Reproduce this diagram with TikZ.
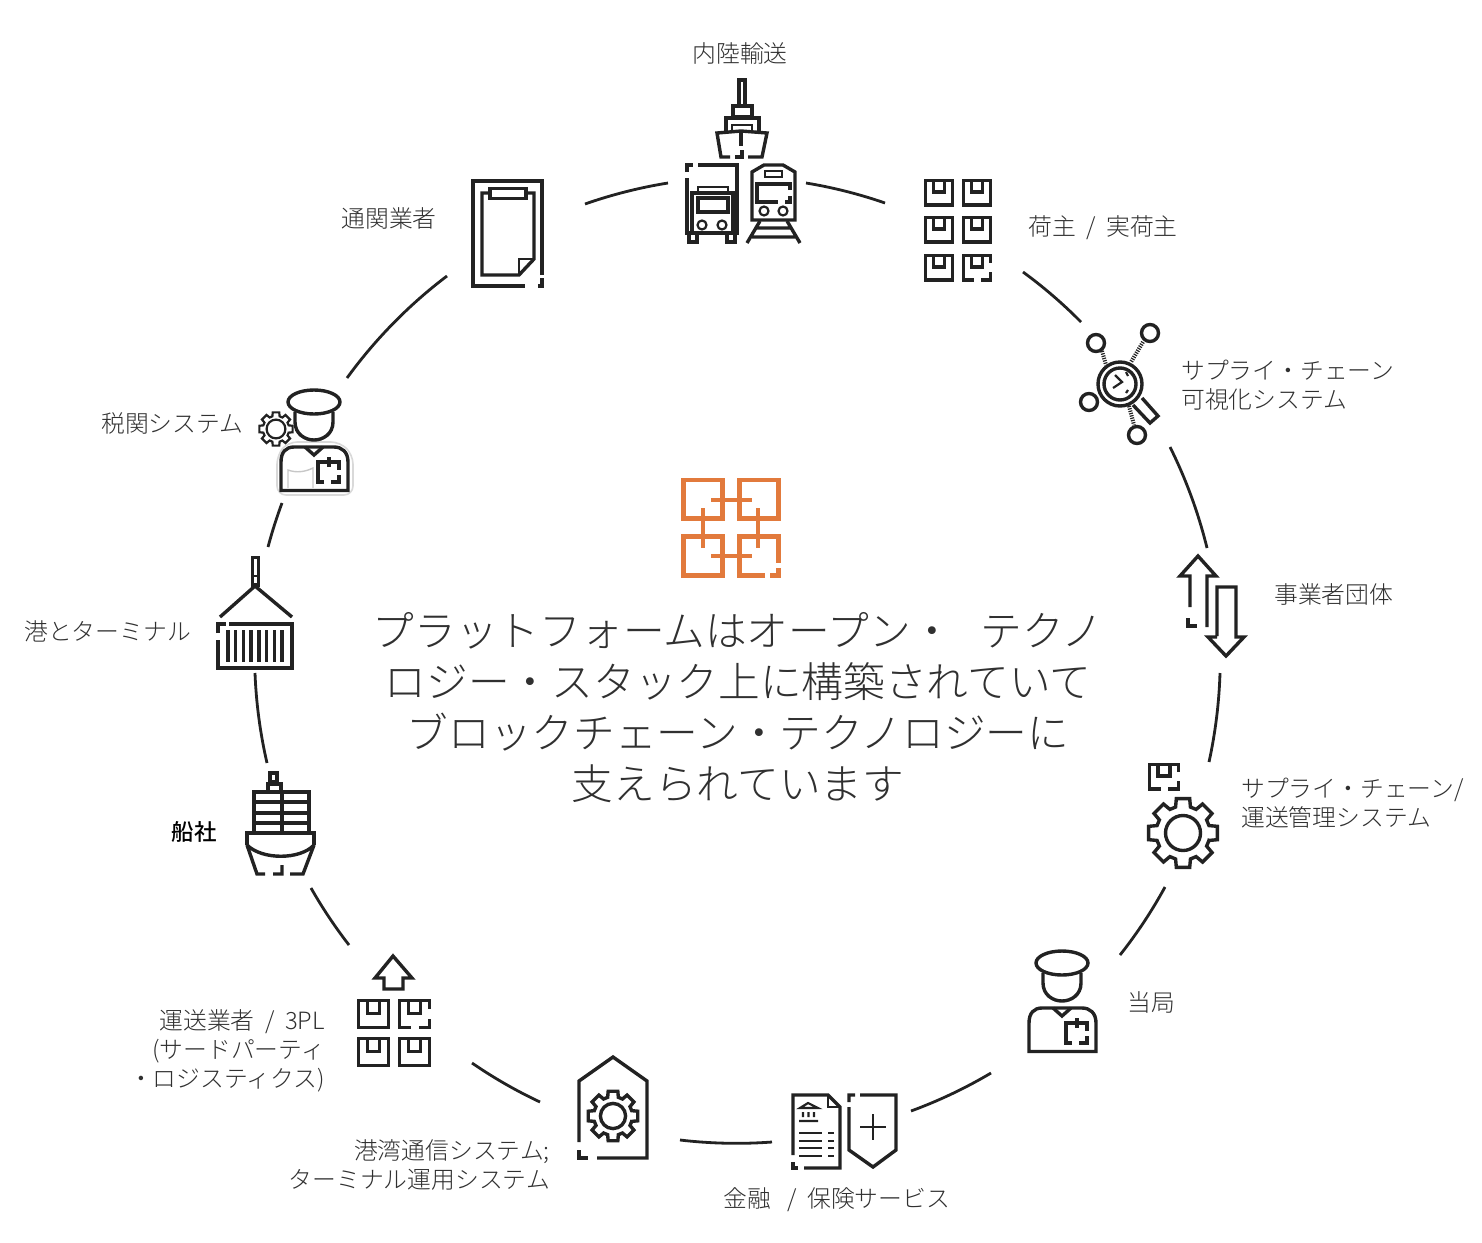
\documentclass[tikz,border=0pt]{standalone}
\usepackage{fontspec}
\setmainfont{Noto Sans CJK JP}[UprightFont=* Light,BoldFont=* Medium]
\usetikzlibrary{positioning}
\definecolor{iconink}{HTML}{222222}
\definecolor{logoorange}{HTML}{E27A3C}
\definecolor{labelink}{HTML}{303030}
\tikzset{
  iconline/.style={draw=iconink,line width=3.4pt,line join=miter},
  thinline/.style={draw=iconink,line width=2.2pt},
  logoline/.style={draw=logoorange,line width=4.2pt},
  ringarc/.style={draw=iconink,line width=2.8pt,looseness=.85},
  ringtext/.style={text=labelink,inner sep=0pt,font=\fontsize{23.8}{29}\selectfont},
  crate/.pic={
    \draw[iconline] (1.5,1.5) rectangle (28.5,26);
    \draw[iconline] (9.5,1.5) -- (9.5,13) -- (20.5,13) -- (20.5,1.5);
  },
  brokencrate/.pic={
    \draw[iconline] (28.5,9) -- (28.5,1.5) -- (1.5,1.5) -- (1.5,26) -- (12,26) (19,26) -- (28.5,26) -- (28.5,18);
    \draw[iconline] (9.5,1.5) -- (9.5,13) -- (20.5,13) -- (20.5,1.5);
  },
  gearwheel/.pic={
    \draw[iconline] (12:27) foreach \a in {45,90,...,360} { -- (\a-29:27) -- (\a-16:27) -- (\a-11:35) -- (\a+11:35) -- (\a+16:27)} -- cycle;
    \draw[iconline] (0,0) circle (17.5);
  },
  officer/.pic={
    \draw[iconline] (0,0) ellipse (26 and 12);
    \draw[iconline] (-19,10) -- (-19,20) .. controls (-19,32) and (-9,38) .. (0,38) .. controls (9,38) and (19,32) .. (19,20) -- (19,10);
    \draw[iconline] (-33,88.5) -- (-33,60) .. controls (-33,50) and (-28,45) .. (-20,45) -- (20,45) .. controls (28,45) and (34,50) .. (34,60) -- (34,88.5) -- cycle;
    \draw[iconline] (-9,45) -- (0,53) -- (9,45);
    \draw[iconline] (10,80) -- (4,80) -- (4,60) -- (25,60) -- (25,68) (25,73) -- (25,80) -- (17,80) (15,55) -- (15,65);
  }
}
\begin{document}
\begin{tikzpicture}[x=1pt,y=-1pt]
  \useasboundingbox (0,0) rectangle (1482,1242);

  \coordinate (arcAa) at (585,204);   \coordinate (arcAb) at (668,183);
  \coordinate (arcBa) at (806,183);   \coordinate (arcBb) at (885,203);
  \coordinate (arcCa) at (1023,272);  \coordinate (arcCb) at (1081,322);
  \coordinate (arcDa) at (1170,447);  \coordinate (arcDb) at (1207,548);
  \coordinate (arcEa) at (1220,673);  \coordinate (arcEb) at (1209,762);
  \coordinate (arcFa) at (1165,887);  \coordinate (arcFb) at (1120,955);
  \coordinate (arcGa) at (991,1073);  \coordinate (arcGb) at (911,1111);
  \coordinate (arcHa) at (772,1142);  \coordinate (arcHb) at (680,1140);
  \coordinate (arcIa) at (540,1102);  \coordinate (arcIb) at (472,1063);
  \coordinate (arcJa) at (349,945);   \coordinate (arcJb) at (311,888);
  \coordinate (arcKa) at (267,763);   \coordinate (arcKb) at (255,673);
  \coordinate (arcLa) at (268,547);   \coordinate (arcLb) at (282,503);
  \coordinate (arcMa) at (347,378);   \coordinate (arcMb) at (447,276);

  \path[ringarc]
  (arcAa) edge[bend left=5.1] (arcAb)
  (arcBa) edge[bend left=4.9] (arcBb)
  (arcCa) edge[bend left=4.6] (arcCb)
  (arcDa) edge[bend left=6.4] (arcDb)
  (arcEa) edge[bend left=5.3] (arcEb)
  (arcFa) edge[bend left=4.9] (arcFb)
  (arcGa) edge[bend left=5.3] (arcGb)
  (arcHa) edge[bend left=5.5] (arcHb)
  (arcIa) edge[bend left=4.7] (arcIb)
  (arcJa) edge[bend left=4.1] (arcJb)
  (arcKa) edge[bend left=5.4] (arcKb)
  (arcLa) edge[bend left=2.7] (arcLb)
  (arcMa) edge[bend left=8.5] (arcMb);

  \draw[iconline] (739,106) rectangle (745,80);
  \draw[iconline] (733,117) rectangle (752,106);
  \draw[iconline] (726,131) -- (726,118) -- (759,118) -- (759,131);
  \draw[thinline] (732,130) -- (732,125) -- (752,125) -- (752,130);
  \draw[iconline] (730,157) -- (721,157) -- (717,133) -- (741,131) -- (767,133) -- (762,157) -- (748,157);
  \draw[iconline] (735,157) -- (742,157) -- (742,150) (741,131) -- (741,146);
  \draw[iconline] (687,172) -- (687,165) -- (693,165) (698,165) -- (737,165) -- (737,233) -- (687,233) -- (687,178);
  \draw[iconline] (692,233) -- (692,193) -- (733,193) -- (733,233);
  \draw[thinline] (698,192) -- (698,187) -- (728,187) -- (728,192);
  \draw[iconline] (698,198) rectangle (728,212);
  \draw[thinline] (702,225) circle (4.5) (722,225) circle (4.5);
  \draw[iconline] (689,233) -- (689,242) -- (697,242) -- (697,233) (727,233) -- (727,242) -- (735,242) -- (735,233);
  \draw[iconline] (752,220) -- (752,172) -- (764,165) -- (783,165) -- (795,172) -- (795,220) -- cycle;
  \draw[thinline] (765,171) rectangle (782,177);
  \draw[iconline] (790,190) -- (790,184) -- (757,184) -- (757,202) -- (778,202) (785,202) -- (790,202) -- (790,196);
  \draw[thinline] (764,211) circle (4.5) (783,211) circle (4.5);
  \draw[iconline] (747,243) -- (760,221) (800,243) -- (787,221) (757,228) -- (790,228) (752,237) -- (795,237);

  \pic at (924,179) {crate};
  \pic at (962,179) {crate};
  \pic at (924,216) {crate};
  \pic at (962,216) {crate};
  \pic at (924,254) {crate};
  \pic at (962,254) {brokencrate};

  \draw[iconline] (542,275) -- (542,181) -- (473,181) -- (473,286) -- (525,286) (538,286) -- (542,286) -- (542,278);
  \draw[iconline] (489,193) -- (482,193) -- (482,275) -- (519,275) -- (534,259) -- (534,193) -- (527,193);
  \draw[iconline] (490,188.5) rectangle (526,198.5);
  \draw[thinline] (519,275) -- (519,259) -- (534,259);

  \draw[iconline] (1120,384) circle (22) (1120,384) circle (16);
  \draw[iconline] (1096,343) circle (8.5) (1150,333) circle (8.5) (1089,402) circle (8.5) (1137,435) circle (8.5);
  \draw[draw=iconink,line width=4pt,dash pattern=on 1.2pt off 1.2pt] (1102,351) -- (1106,365) (1143,342) -- (1131,362) (1129,406) -- (1134,425);
  \draw[iconline] (1133,405) -- (1150,423) -- (1158,416) -- (1142,398);
  \draw[thinline] (1115,375) -- (1122,382) -- (1113,388) (1126,372) -- (1128,376) (1128,390) -- (1126,393);

  \draw[iconline] (1190,607) -- (1190,576) -- (1180,576) -- (1198,556) -- (1216,576) -- (1207,576) -- (1207,627);
  \draw[iconline] (1188,618) -- (1188,626) -- (1197,626);
  \draw[iconline] (1217,636) -- (1217,587) -- (1236,587) -- (1236,637) -- (1244,637) -- (1226,656) -- (1208,637) -- (1217,637);

  \pic[xscale=1.07,yscale=1] at (1148,763) {brokencrate};
  \pic at (1183,833) {gearwheel};

  \pic at (1062,963) {officer};

  \draw[iconline] (793,1155) -- (793,1095) -- (828,1095) -- (840,1107) -- (840,1168) -- (804,1168);
  \draw[iconline] (798,1168) -- (793,1168) -- (793,1162);
  \draw[thinline] (828,1095) -- (828,1107) -- (840,1107);
  \draw[thinline] (800,1108) -- (808,1103) -- (818,1108) -- cycle (803,1112) -- (803,1117) (808.5,1112) -- (808.5,1117) (814,1112) -- (814,1117) (799,1121) -- (818,1121);
  \draw[thinline] (799,1133) -- (822,1133) (828,1133) -- (834,1133) (799,1141) -- (822,1141) (828,1141) -- (834,1141) (799,1148) -- (822,1148) (828,1148) -- (834,1148) (799,1156) -- (822,1156) (828,1156) -- (834,1156);
  \draw[iconline] (849,1102) -- (849,1095) -- (855,1095) (860,1095) -- (896,1095) -- (896,1150) -- (873,1167) -- (849,1150) -- (849,1107);
  \draw[thinline] (860,1127) -- (886,1127) (873,1114) -- (873,1140);

  \draw[iconline] (597,1158) -- (647,1158) -- (647,1081) -- (613,1057) -- (579,1081) -- (579,1142);
  \draw[iconline] (579,1150) -- (579,1158) -- (588,1158);
  \pic[scale=.72] at (613,1116) {gearwheel};

  \draw[iconline] (375,978) -- (393,956) -- (412,978) -- (403,978) -- (403,989) -- (384,989) -- (384,978) -- cycle;
  \pic[scale=1.1] at (357,999) {crate};
  \pic[scale=1.1] at (398,999) {brokencrate};
  \pic[scale=1.1] at (357,1037) {crate};
  \pic[scale=1.1] at (398,1037) {crate};

  \draw[iconline] (270,782) rectangle (277,773);
  \draw[iconline] (268,791) -- (268,784) -- (281,784) -- (281,791);
  \draw[iconline] (254,833) -- (254,792) -- (309,792) -- (309,833);
  \draw[iconline] (254,802) -- (309,802) (254,813) -- (309,813) (254,823) -- (309,823) (282,792) -- (282,833);
  \draw[iconline] (247,845) -- (247,833) -- (314,833) -- (314,845);
  \draw[iconline] (247,845) .. controls (262,860) and (300,860) .. (314,845);
  \draw[iconline] (247,845) -- (257,874) -- (265,874) (273,874) -- (282,874) -- (282,865) (290,874) -- (303,874) -- (314,845);

  \draw[iconline] (252.5,585) rectangle (258.5,557.5);
  \draw[thinline] (252.5,576) -- (258.5,576);
  \draw[iconline] (220,617) -- (255,586) -- (292,617);
  \draw[iconline] (218,633) -- (218,624) -- (226,624) (229,624) -- (292,624) -- (292,668) -- (218,668) -- (218,640);
  \foreach \barx in {228,235.7,...,283} {
    \draw[iconline] (\barx,630) -- (\barx,662);
  }

  \draw[draw=black!15,line width=1.6pt,rounded corners=9pt] (277,495) -- (277,455) -- (288,442) -- (340,442) -- (353,455) -- (353,495) -- cycle;
  \pic at (314,402) {officer};
  \draw[draw=black!22,line width=1.4pt] (288,488) -- (288,470) .. controls (296,473) and (305,472) .. (313,468) -- (313,488);
  \begin{scope}[shift={(276,429)},scale=.47]
    \draw[thinline] (12:28) foreach \a in {45,90,...,360} { -- (\a-29:28) -- (\a-16:28) -- (\a-11:36) -- (\a+11:36) -- (\a+16:28)} -- cycle;
    \draw[thinline] (0,0) circle (20);
  \end{scope}

  \draw[logoline] (683.5,480) rectangle (722.5,518.5);
  \draw[logoline] (739.5,480) rectangle (778.5,518.5);
  \draw[logoline] (683.5,536.5) rectangle (722.5,575.5);
  \draw[logoline] (765,575.5) -- (739.5,575.5) -- (739.5,536.5) -- (778.5,536.5) -- (778.5,563) (770,575.5) -- (778.5,575.5) -- (778.5,568);
  \draw[logoline] (711,500) -- (752,500) (711,556) -- (752,556) (703,508) -- (703,548) (758,508) -- (758,548);

  \node[ringtext] (inland) at (740,53) {内陸輸送};
  \node[ringtext] (broker) at (389,218) {通関業者};
  \node[ringtext,anchor=west] (shipper) at (1028,228) {荷主\ \ /\ \ 実荷主};
  \node[ringtext,anchor=west,align=left] (visibility) at (1181,385) {サプライ・チェーン\\可視化システム};
  \node[ringtext,anchor=west] (bodies) at (1274,594) {事業者団体};
  \node[ringtext,anchor=west,align=left] (transport) at (1241,803) {サプライ・チェーン/\\運送管理システム};
  \node[ringtext,anchor=west] (authority) at (1127,1002) {当局};
  \node[ringtext] (finance) at (837,1200) {金融\ \ \ /\ \ 保険サービス};
  \node[ringtext,anchor=east,align=right] (portcomm) at (550,1164.5) {港湾通信システム;\\ターミナル運用システム};
  \node[ringtext,anchor=east,align=right] (carrier) at (325,1051) {運送業者\ \ /\ \ 3PL\\(サードパーティ\\・ロジスティクス)};
  \node[ringtext,font=\fontsize{22.5}{29}\selectfont\bfseries,text=black] (liner) at (194,832) {船社};
  \node[ringtext,anchor=west] (terminal) at (24,631) {港とターミナル};
  \node[ringtext,anchor=west] (customs) at (101,423) {税関システム};
  \node[text=labelink,inner sep=0pt,align=center,font=\fontsize{41.7}{51}\selectfont] (platform) at (738,707.5) {プラットフォームはオープン・\ \ \ テクノ\\ロジー・スタック上に構築されていて\\ブロックチェーン・テクノロジーに\\支えられています};
\end{tikzpicture}
\end{document}
